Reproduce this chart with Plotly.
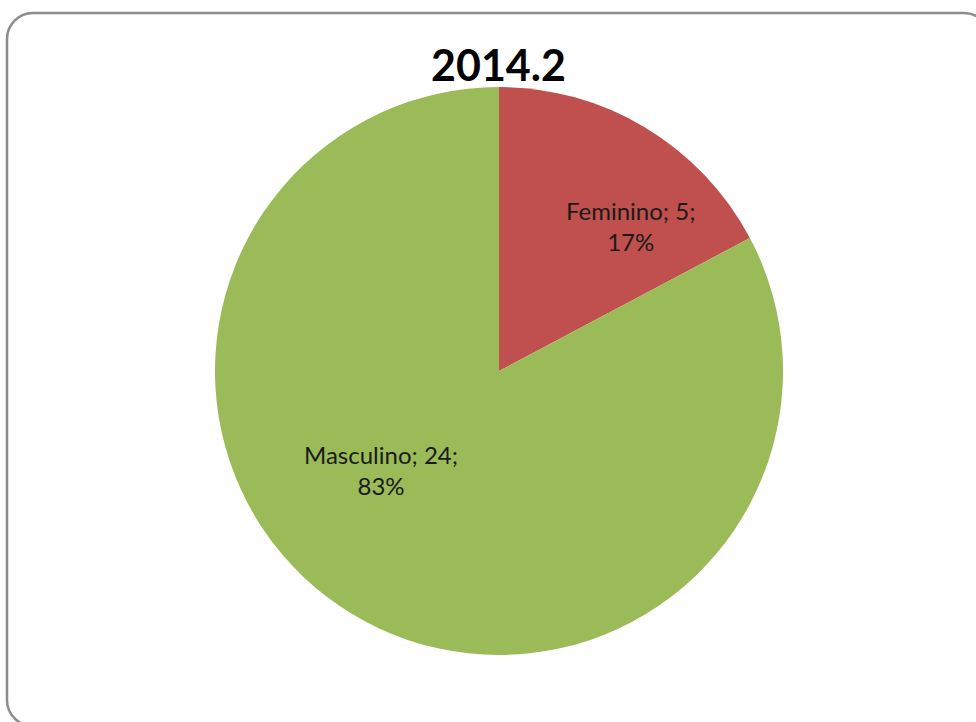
import plotly.graph_objects as go

# Gender split for the 2014.2 term
categories = ["Feminino", "Masculino"]
counts = [5, 24]
colors = ["#C0504D", "#9BBB59"]
title_text = "2014.2"

W, H = 976, 722
total = sum(counts)
labels = [f"{c}; {v};<br>{round(100 * v / total)}%" for c, v in zip(categories, counts)]


def px(x):
    return x / W


def py(y):
    return 1 - y / H


# rounded frame around the chart area (pixel geometry converted to paper units)
left, top, right, bottom, r = 7, 13, 990, 726, 26
k = 0.5523 * r
pts = [
    f"M {px(left + r)},{py(top)}",
    f"L {px(right - r)},{py(top)}",
    f"C {px(right - r + k)},{py(top)} {px(right)},{py(top + r - k)} {px(right)},{py(top + r)}",
    f"L {px(right)},{py(bottom - r)}",
    f"C {px(right)},{py(bottom - r + k)} {px(right - r + k)},{py(bottom)} {px(right - r)},{py(bottom)}",
    f"L {px(left + r)},{py(bottom)}",
    f"C {px(left + r - k)},{py(bottom)} {px(left)},{py(bottom - r + k)} {px(left)},{py(bottom - r)}",
    f"L {px(left)},{py(top + r)}",
    f"C {px(left)},{py(top + r - k)} {px(left + r - k)},{py(top)} {px(left + r)},{py(top)}",
    "Z",
]
frame_path = " ".join(pts)

fig = go.Figure(
    go.Pie(
        labels=categories,
        values=counts,
        marker=dict(colors=colors, line=dict(width=0)),
        sort=False,
        direction="clockwise",
        rotation=0,
        textinfo="none",
        hoverinfo="label+value+percent",
        domain=dict(x=[px(215), px(783)], y=[py(655), py(87)]),
        showlegend=False,
    )
)

label_pos = [(630, 226), (381, 470)]
annotations = [
    dict(
        x=px(x), y=py(y), xref="paper", yref="paper",
        xanchor="center", yanchor="middle",
        text=t, showarrow=False, align="center",
        font=dict(family="Lato, Carlito, sans-serif", size=24, color="#1a1a1a"),
    )
    for t, (x, y) in zip(labels, label_pos)
]
annotations.append(
    dict(
        x=px(498), y=py(64), xref="paper", yref="paper",
        xanchor="center", yanchor="middle",
        text=f"<b>{title_text}</b>", showarrow=False,
        font=dict(family="Lato, Carlito, sans-serif", size=43, color="#000000"),
    )
)

fig.update_layout(
    width=W, height=H,
    margin=dict(l=0, r=0, t=0, b=0),
    paper_bgcolor="white",
    plot_bgcolor="white",
    annotations=annotations,
    shapes=[
        dict(type="path", xref="paper", yref="paper", path=frame_path,
             line=dict(color="#8C8C8C", width=2.5), layer="below")
    ],
)

fig.write_html("out.html")
